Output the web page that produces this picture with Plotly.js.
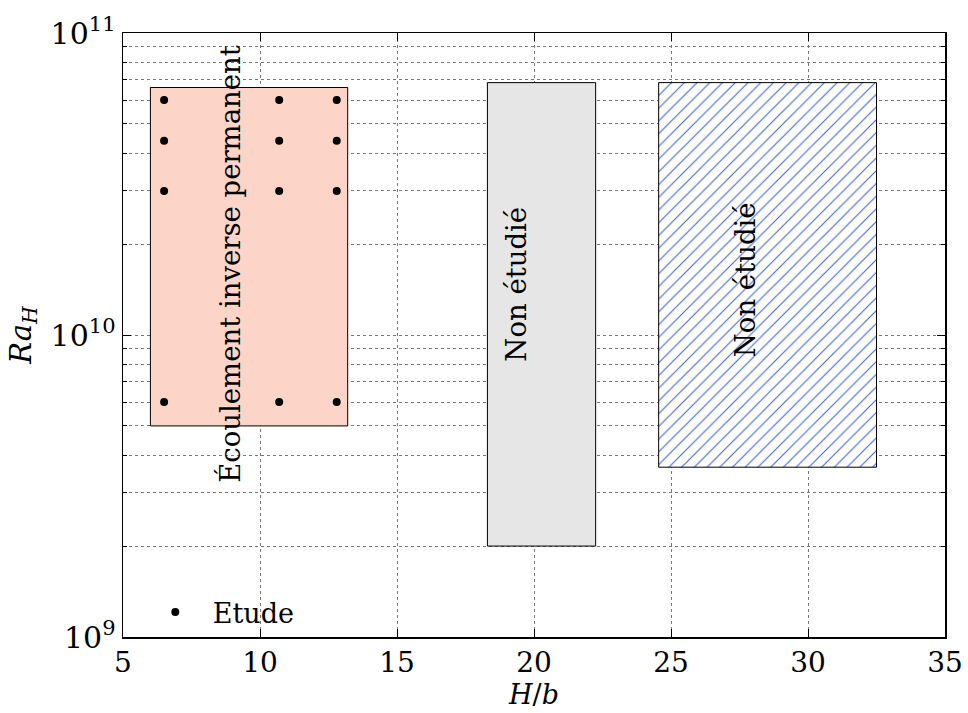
<!DOCTYPE html>
<html>
<head>
<meta charset="utf-8">
<script src="https://cdn.plot.ly/plotly-3.0.1.min.js"></script>
<style>html,body{margin:0;padding:0;background:#fff;}#chart{width:968px;height:713px;}</style>
</head>
<body>
<div id="chart"></div>
<script>
// Study points
const studyX = [6.5, 6.5, 6.5, 6.5, 10.7, 10.7, 10.7, 10.7, 12.8, 12.8, 12.8, 12.8];
const studyY = [6e10, 4.4e10, 3e10, 6e9, 6e10, 4.4e10, 3e10, 6e9, 6e10, 4.4e10, 3e10, 6e9];
// Regions: [xmin, xmax], [ymin, ymax]
const regionRedX = [6.0, 13.2];
const regionRedY = [5e9, 6.6e10];
const regionGrayX = [18.3, 22.25];
const regionGrayY = [2e9, 6.85e10];
const regionHatchX = [24.55, 32.5];
const regionHatchY = [3.65e9, 6.85e10];
const labelRed = "Écoulement inverse permanent";
const labelGray = "Non étudié";
const labelHatch = "Non étudié";
const legendLabel = "Etude";
const yTickVals = [1e9, 1e10, 1e11];
const yTickText = ["10<sup>9</sup>", "10<sup>10</sup>", "10<sup>11</sup>"];
const xTickVals = [5, 10, 15, 20, 25, 30, 35];

function rect(xr, yr) {
  return {
    x: [xr[0], xr[1], xr[1], xr[0], xr[0]],
    y: [yr[0], yr[0], yr[1], yr[1], yr[0]]
  };
}
const FONT = "DejaVu Serif";
const rR = rect(regionRedX, regionRedY);
const rG = rect(regionGrayX, regionGrayY);
const rH = rect(regionHatchX, regionHatchY);

const minorY = [];
[1e9, 1e10].forEach(d => { for (let k = 2; k <= 9; k++) minorY.push(k * d); });

const traces = [
  {x: rR.x, y: rR.y, type: 'scatter', mode: 'lines', fill: 'toself', fillcolor: '#fdd5c8',
   line: {color: '#000', width: 1}, showlegend: false, hoverinfo: 'skip'},
  {x: rG.x, y: rG.y, type: 'scatter', mode: 'lines', fill: 'toself', fillcolor: '#e6e6e6',
   line: {color: '#000', width: 1}, showlegend: false, hoverinfo: 'skip'},
  {x: rH.x, y: rH.y, type: 'scatter', mode: 'lines', fill: 'toself', fillcolor: 'white',
   fillpattern: {shape: '/', fgcolor: '#3e67d2', bgcolor: 'white', size: 9, solidity: 0.12},
   line: {color: '#000', width: 1}, showlegend: false, hoverinfo: 'skip'},
  {x: studyX, y: studyY, type: 'scatter', mode: 'markers', name: legendLabel,
   marker: {color: '#000', size: 8}, showlegend: true}
];

const layout = {
  width: 968, height: 713,
  margin: {l: 123, r: 23, t: 33, b: 76},
  paper_bgcolor: 'white', plot_bgcolor: 'white',
  font: {family: FONT, color: '#000', size: 27},
  showlegend: true,
  legend: {x: 0.018, y: 0.0, xanchor: 'left', yanchor: 'bottom', bgcolor: 'rgba(0,0,0,0)',
           font: {family: FONT, size: 27}, itemwidth: 65},
  xaxis: {
    range: [5, 35], tickvals: xTickVals, ticks: 'inside', ticklen: 8, tickcolor: '#000',
    showline: true, linecolor: '#000', linewidth: 1.5, mirror: 'ticks',
    showgrid: true, gridcolor: '#777', griddash: 'dot', gridwidth: 1, zeroline: false,
    tickfont: {family: FONT, size: 28},
    title: {text: '<i>H</i>/<i>b</i>', font: {family: FONT, size: 27}, standoff: 6}
  },
  yaxis: {
    type: 'log', range: [9, 11], tickvals: yTickVals, ticktext: yTickText,
    ticks: 'inside', ticklen: 8, tickcolor: '#000',
    showline: true, linecolor: '#000', linewidth: 1.5, mirror: 'ticks',
    showgrid: true, gridcolor: '#777', griddash: 'dot', gridwidth: 1, zeroline: false,
    tickfont: {family: FONT, size: 30},
    minor: {tickvals: minorY, ticks: 'inside', ticklen: 4, tickcolor: '#000',
            showgrid: true, gridcolor: '#777', griddash: 'dot', gridwidth: 1},
    title: {text: '<i>Ra</i><sub><i>H</i></sub>', font: {family: FONT, size: 29}, standoff: 10}
  },
  annotations: [
    {x: 8.9, y: Math.log10(1.72e10), xref: 'x', yref: 'y', text: labelRed, textangle: -90,
     showarrow: false, font: {family: FONT, size: 27.5, color: '#000'}},
    {x: 19.35, y: Math.log10(1.47e10), xref: 'x', yref: 'y', text: labelGray, textangle: -90,
     showarrow: false, font: {family: FONT, size: 27.5, color: '#000'}},
    {x: 27.7, y: Math.log10(1.53e10), xref: 'x', yref: 'y', text: labelHatch, textangle: -90,
     showarrow: false, font: {family: FONT, size: 27.5, color: '#000'}}
  ]
};

Plotly.newPlot('chart', traces, layout, {displayModeBar: false, staticPlot: true});
</script>
</body>
</html>
